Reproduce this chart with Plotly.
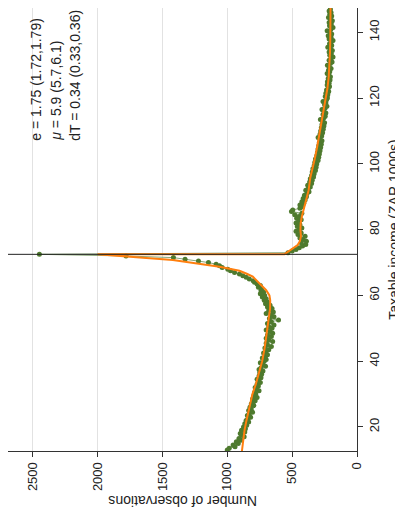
import plotly.graph_objects as go

# ---- observed bins below the notch (income, ZAR 1000s) ----
income_low = [
    13.0, 13.5, 14.0, 14.5, 15.0, 15.5, 16.0, 16.5, 17.0, 17.5,
    18.0, 18.5, 19.0, 19.5, 20.0, 20.5, 21.0, 21.5, 22.0, 22.5,
    23.0, 23.5, 24.0, 24.5, 25.0, 25.5, 26.0, 26.5, 27.0, 27.5,
    28.0, 28.5, 29.0, 29.5, 30.0, 30.5, 31.0, 31.5, 32.0, 32.5,
    33.0, 33.5, 34.0, 34.5, 35.0, 35.5, 36.0, 36.5, 37.0, 37.5,
    38.0, 38.5, 39.0, 39.5, 40.0, 40.5, 41.0, 41.5, 42.0, 42.5,
    43.0, 43.5, 44.0, 44.5, 45.0, 45.5, 46.0, 46.5, 47.0, 47.5,
    48.0, 48.5, 49.0, 49.5, 50.0, 50.5, 51.0, 51.5, 52.0, 52.5,
    53.0, 53.5, 54.0, 54.5, 55.0, 55.5, 56.0, 56.5, 57.0, 57.5,
    58.0, 58.5, 59.0, 59.5, 60.0, 60.5, 61.0, 61.5, 62.0, 62.5,
    63.0, 63.5, 64.0, 64.5, 65.0, 65.5, 66.0, 66.5, 67.0, 67.5,
    68.0, 68.5, 69.0, 69.5, 70.0, 70.5, 71.0, 71.5, 72.0, 72.5,
]
count_low = [
    1000, 985, 940, 955, 915, 930, 895, 910, 870, 890,
    900, 865, 890, 860, 875, 850, 865, 835, 855, 840,
    820, 845, 830, 805, 835, 815, 825, 795, 815, 800,
    785, 805, 770, 795, 780, 790, 755, 775, 785, 760,
    770, 745, 760, 770, 740, 755, 735, 750, 725, 755,
    740, 705, 725, 745, 715, 700, 730, 705, 690, 720,
    700, 680, 710, 660, 690, 700, 650, 680, 700, 660,
    690, 650, 670, 700, 655, 680, 640, 690, 660, 605,
    675, 640, 660, 700, 645, 680, 655, 690, 670, 705,
    690, 715, 700, 730, 712, 745, 720, 740, 735, 760,
    745, 770, 790, 800, 830, 854, 880, 906, 944, 975,
    996, 1039, 1060, 1086, 1145, 1222, 1325, 1415, 1780, 2448,
]

# ---- observed bins above the notch ----
income_high = [
    73.0, 73.5, 74.0, 74.5, 75.0, 75.5, 76.0, 76.5, 77.0, 77.5,
    78.0, 78.5, 79.0, 79.5, 80.0, 80.5, 81.0, 81.5, 82.0, 82.5,
    83.0, 83.5, 84.0, 84.5, 85.0, 85.5, 86.0, 86.5, 87.0, 87.5,
    88.0, 88.5, 89.0, 89.5, 90.0, 90.5, 91.0, 91.5, 92.0, 92.5,
    93.0, 93.5, 94.0, 94.5, 95.0, 95.5, 96.0, 96.5, 97.0, 97.5,
    98.0, 98.5, 99.0, 99.5, 100.0, 100.5, 101.0, 101.5, 102.0, 102.5,
    103.0, 103.5, 104.0, 104.5, 105.0, 105.5, 106.0, 106.5, 107.0, 107.5,
    108.0, 108.5, 109.0, 109.5, 110.0, 110.5, 111.0, 111.5, 112.0, 112.5,
    113.0, 113.5, 114.0, 114.5, 115.0, 115.5, 116.0, 116.5, 117.0, 117.5,
    118.0, 118.5, 119.0, 119.5, 120.0, 120.5, 121.0, 121.5, 122.0, 122.5,
    123.0, 123.5, 124.0, 124.5, 125.0, 125.5, 126.0, 126.5, 127.0, 127.5,
    128.0, 128.5, 129.0, 129.5, 130.0, 130.5, 131.0, 131.5, 132.0, 132.5,
    133.0, 133.5, 134.0, 134.5, 135.0, 135.5, 136.0, 136.5, 137.0, 137.5,
    138.0, 138.5, 139.0, 139.5, 140.0, 140.5, 141.0, 141.5, 142.0, 142.5,
    143.0, 143.5, 144.0, 144.5, 145.0, 145.5, 146.0, 146.5, 147.0,
]
count_high = [
    532, 500, 470, 445, 420, 395, 430, 390, 415, 440,
    400, 455, 430, 470, 445, 425, 460, 440, 470, 450,
    430, 465, 445, 480, 425, 505, 495, 440, 420, 440,
    410, 425, 400, 415, 390, 405, 385, 370, 395, 375,
    360, 380, 350, 365, 345, 360, 335, 350, 330, 345,
    320, 340, 315, 330, 310, 325, 300, 320, 295, 310,
    290, 305, 285, 300, 280, 295, 275, 290, 270, 285,
    300, 272, 285, 265, 280, 260, 275, 255, 270, 250,
    265, 282, 255, 245, 262, 240, 255, 270, 245, 232,
    250, 240, 262, 235, 228, 245, 225, 240, 218, 235,
    222, 212, 230, 215, 228, 208, 222, 205, 218, 230,
    210, 220, 200, 215, 228, 205, 192, 215, 200, 185,
    210, 198, 215, 190, 205, 225, 195, 212, 200, 185,
    215, 200, 222, 195, 208, 230, 200, 185, 212, 198,
    215, 190, 205, 220, 195, 210, 200, 215, 205,
]

# ---- fitted density (orange) ----
fit_income = [12.7, 16, 19, 22, 26, 30, 33, 36, 40, 44, 47.3, 50, 53.4, 56, 58.5,
              60, 61.6, 63, 64.7, 65.7, 66.6, 67.5, 68.7, 69.8, 70.8, 71.6, 72.3,
              72.5, 72.5, 73.3, 74.3, 75.3, 76.5, 78, 80, 82, 84, 86, 88, 90, 92,
              95.8, 98.5, 101.5, 105, 109.8, 113, 116.9, 120, 123, 126.5, 130,
              134, 138, 142, 147.4]
fit_count = [887, 877, 867, 852, 829, 806, 780, 760, 731, 712, 700, 688, 675, 670, 669,
             675, 700, 735, 777, 803, 850, 906, 1060, 1230, 1420, 1700, 1960,
             2000, 560, 530, 490, 458, 440, 432, 436, 434, 425, 412, 398, 385, 373,
             360, 342, 326, 308, 287, 272, 254, 241, 228, 218, 211,
             208, 206, 205, 204]

notch = 72.5
count_ticks = [0, 500, 1000, 1500, 2000, 2500]
income_ticks = [20, 40, 60, 80, 100, 120, 140]
stats_lines = ["e = 1.75 (1.72,1.79)", "<i>μ</i> = 5.9 (5.7,6.1)", "dT = 0.34 (0.33,0.36)"]

FONT = "Liberation Sans, Arial, sans-serif"
green = "#4e7a2e"
orange = "#ff7f0e"

fig = go.Figure()
obs_income = income_low + income_high
obs_count = count_low + count_high
fig.add_trace(go.Scatter(
    x=obs_count, y=obs_income, mode="lines+markers",
    line=dict(color="rgba(95,135,70,0.75)", width=1),
    marker=dict(color=green, size=5),
    showlegend=False, hoverinfo="skip"))
fig.add_trace(go.Scatter(
    x=fit_count, y=fit_income, mode="lines",
    line=dict(color=orange, width=2),
    showlegend=False, hoverinfo="skip"))

fig.add_shape(type="line", xref="paper", x0=0, x1=1, yref="y", y0=notch, y1=notch,
              line=dict(color="#222222", width=1), layer="above")

ys = [2471, 2321, 2170]
for txt, xv in zip(stats_lines, ys):
    fig.add_annotation(x=xv, y=106.4, xref="x", yref="y", text=txt, showarrow=False,
                       textangle=-90, xanchor="center", yanchor="bottom",
                       font=dict(family=FONT, size=14, color="#222222"))

fig.add_annotation(x=0.5, y=-0.113, xref="paper", yref="paper",
                   text="Number of observations", showarrow=False, textangle=180,
                   xanchor="center", yanchor="middle",
                   font=dict(family=FONT, size=14, color="#222222"))
fig.add_annotation(x=1.104, y=0.5, xref="paper", yref="paper",
                   text="Taxable income (ZAR 1000s)", showarrow=False, textangle=-90,
                   xanchor="center", yanchor="middle",
                   font=dict(family=FONT, size=14, color="#222222"))

# the page body adds an 8px offset; size the figure to fill the rest of the window
fig.update_layout(
    width=395, height=506,
    margin=dict(l=0, r=46, t=0, b=63),
    paper_bgcolor="white", plot_bgcolor="white",
    font=dict(family=FONT, size=13, color="#222222"),
    xaxis=dict(range=[2690, 0], tickvals=count_ticks, tickangle=-90,
               ticks="outside", ticklen=5, tickcolor="#333333",
               showline=True, linecolor="#333333", linewidth=1,
               showgrid=True, gridcolor="#e2e2e2", gridwidth=1, zeroline=False,
               automargin=False),
    yaxis=dict(range=[12.7, 147.4], side="right", tickvals=income_ticks, tickangle=-90,
               ticks="outside", ticklen=5, tickcolor="#333333",
               showline=True, linecolor="#333333", linewidth=1,
               showgrid=False, zeroline=False, automargin=False),
)

fig.write_html("out.html")
